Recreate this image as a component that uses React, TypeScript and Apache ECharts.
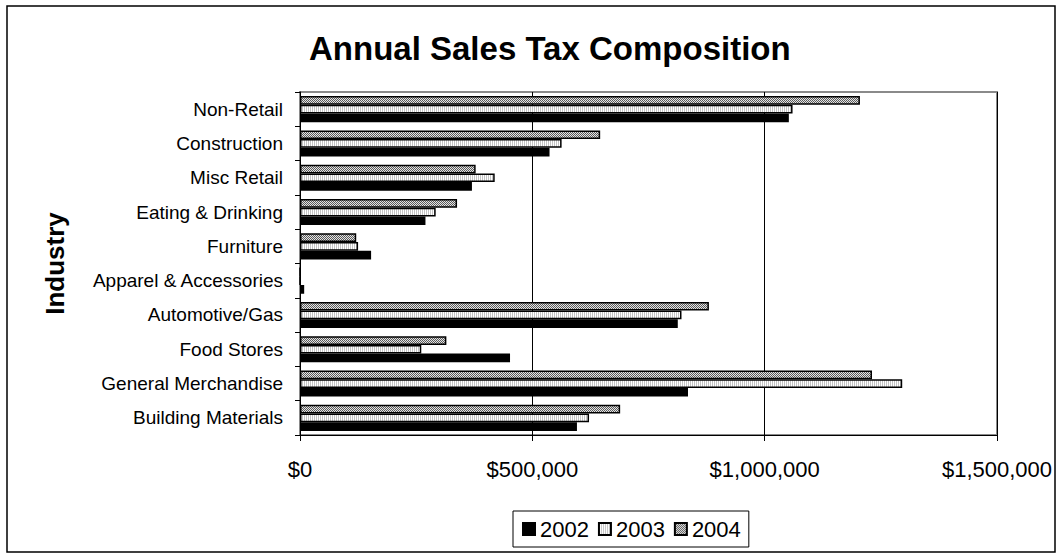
import React, { useEffect, useRef } from 'react';
import * as echarts from 'echarts';

const categories = [
  'Building Materials',
  'General Merchandise',
  'Food Stores',
  'Automotive/Gas',
  'Apparel & Accessories',
  'Furniture',
  'Eating & Drinking',
  'Misc Retail',
  'Construction',
  'Non-Retail',
];
const seriesNames = ['2002', '2003', '2004'];
const sales2002 = [596000, 835000, 452000, 813000, 9000, 153000, 270000, 370000, 537000, 1052000];
const sales2003 = [622000, 1296000, 261000, 821000, 0, 125000, 292000, 419000, 563000, 1060000];
const sales2004 = [689000, 1231000, 315000, 880000, 0, 121000, 338000, 378000, 646000, 1205000];
const xTicks = [0, 500000, 1000000, 1500000];

const FONT = '"Liberation Sans", Arial, sans-serif';

function stripePattern(): HTMLCanvasElement {
  const c = document.createElement('canvas');
  c.width = 2;
  c.height = 2;
  const ctx = c.getContext('2d')!;
  ctx.fillStyle = '#ffffff';
  ctx.fillRect(0, 0, 2, 2);
  ctx.fillStyle = '#c4c4c4';
  ctx.fillRect(0, 0, 1, 2);
  return c;
}

function checkerPattern(): HTMLCanvasElement {
  const c = document.createElement('canvas');
  c.width = 2;
  c.height = 2;
  const ctx = c.getContext('2d')!;
  ctx.fillStyle = '#e4e4e4';
  ctx.fillRect(0, 0, 2, 2);
  ctx.fillStyle = '#5a5a5a';
  ctx.fillRect(0, 0, 1, 1);
  ctx.fillRect(1, 1, 1, 1);
  return c;
}

export default function App() {
  const ref = useRef<HTMLDivElement>(null);

  useEffect(() => {
    if (!ref.current) return;
    const chart = echarts.init(ref.current, undefined, { renderer: 'svg' });
    const p2003 = { image: stripePattern(), repeat: 'repeat' };
    const p2004 = { image: checkerPattern(), repeat: 'repeat' };
    const fills = ['#000000', p2003, p2004];
    const values = [sales2002, sales2003, sales2004];

    // ECharts stacks horizontal bar groups top-down in series order,
    // so the series are given in reverse to keep 2002 at the bottom.
    const order = [2, 1, 0];

    chart.setOption({
      animation: false,
      backgroundColor: '#ffffff',
      title: {
        text: 'Annual Sales Tax Composition',
        left: 304,
        top: 27,
        textStyle: { fontFamily: FONT, fontSize: 33, fontWeight: 'bold', color: '#000' },
      },
      graphic: [
        {
          type: 'rect',
          shape: { x: 7, y: 6, width: 1048, height: 546 },
          style: { fill: 'none', stroke: '#000', lineWidth: 1.5 },
          silent: true,
          z: -1,
        },
      ],
      legend: {
        data: seriesNames,
        left: 513,
        top: 511,
        orient: 'horizontal',
        icon: 'rect',
        itemWidth: 12,
        itemHeight: 12,
        itemGap: 9,
        padding: [7, 8, 7, 9],
        borderColor: '#000',
        borderWidth: 1,
        textStyle: { fontFamily: FONT, fontSize: 22, color: '#000' },
      },
      grid: {
        left: 300,
        right: 64,
        top: 92,
        bottom: 124,
        show: true,
        borderColor: '#8a8a8a',
        borderWidth: 2,
        backgroundColor: '#ffffff',
      },
      xAxis: {
        type: 'value',
        min: 0,
        max: 1500000,
        interval: 500000,
        axisLine: { show: true, onZero: false, lineStyle: { color: '#000', width: 1 } },
        axisTick: { show: true, inside: false, length: 6, lineStyle: { color: '#000' } },
        splitLine: { show: true, lineStyle: { color: '#000', width: 1 } },
        axisLabel: {
          margin: 23,
          fontFamily: FONT,
          fontSize: 22,
          color: '#000',
          formatter: (v: number) => (xTicks.includes(v) ? '$' + v.toLocaleString('en-US') : ''),
        },
      },
      yAxis: {
        type: 'category',
        data: categories,
        name: 'Industry',
        nameLocation: 'middle',
        nameGap: 232,
        nameRotate: 90,
        nameTextStyle: { fontFamily: FONT, fontSize: 26, fontWeight: 'bold', color: '#000' },
        axisLine: { show: true, lineStyle: { color: '#000', width: 1 } },
        axisTick: { show: true, inside: false, length: 5, alignWithLabel: false, lineStyle: { color: '#000' } },
        splitLine: { show: false },
        axisLabel: { margin: 17, fontFamily: FONT, fontSize: 19, color: '#000' },
      },
      series: order.map((i) => ({
        name: seriesNames[i],
        type: 'bar',
        data: values[i],
        barGap: '0%',
        barCategoryGap: '24%',
        itemStyle: { color: fills[i], borderColor: '#000', borderWidth: 1.5 },
        emphasis: { disabled: true },
      })),
    });

    return () => chart.dispose();
  }, []);

  return (
    <div
      ref={ref}
      style={{ position: 'absolute', left: 0, top: 0, width: 1061, height: 559 }}
    />
  );
}
